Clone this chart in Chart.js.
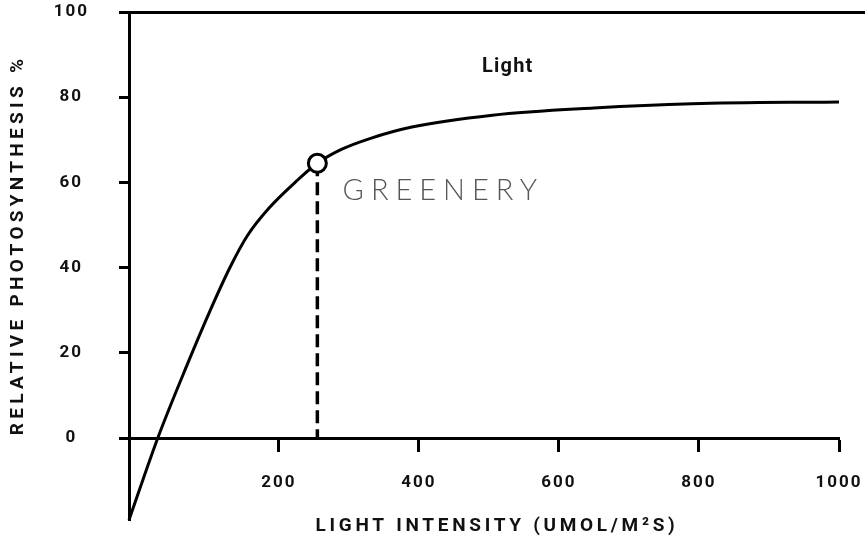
<!DOCTYPE html>
<html>
<head>
<meta charset="utf-8">
<script src="https://cdn.jsdelivr.net/npm/chart.js@4/dist/chart.umd.min.js"></script>
<style>
    html, body { margin: 0; padding: 0; background: #fff; }
    #wrap { width: 865px; height: 545px; }
</style>
</head>
<body>
<div id="wrap"><canvas id="chart" width="865" height="545"></canvas></div>
<script>

// light response curve
const curveX = [-14, 27, 70, 102, 130, 155, 186, 225, 255, 290, 330, 390, 505, 650, 790, 1000];
const curveY = [-19.2, 0, 17.6, 30, 40, 47.5, 54, 60.3, 64.5, 67.8, 70.3, 73, 75.8, 77.5, 78.5, 78.9];

// the marked point and its drop line
const markX = 255;
const markY = 64.5;

const xTicks = [200, 400, 600, 800, 1000];
const yTicks = [0, 20, 40, 60, 80, 100];

const xTitle = 'LIGHT INTENSITY (UMOL/M²S)';
const yTitle = 'RELATIVE PHOTOSYNTHESIS %';
const curveLabel = 'Light';
const curveLabelPos = [527, 87];
const brand = 'GREENERY';
const brandPos = [291, 58];

const tickFont = { family: 'Roboto', size: 17, weight: 'bold' };

function spacedText(ctx, text, x, y, spacing) {
    ctx.save();
    ctx.letterSpacing = spacing + 'px';
    ctx.fillText(text, x, y);
    ctx.restore();
}

// extra lines and texts, placed with the chart's own scales
const extrasPlugin = {
    id: 'extras',
    beforeLayout(chart) {
        chart.ctx.letterSpacing = '2px';
    },
    afterDraw(chart) {
        const ctx = chart.ctx;
        const xs = chart.scales.x;
        const ys = chart.scales.y;
        const area = chart.chartArea;

        // top rule at 100 running to the right edge
        ctx.save();
        ctx.strokeStyle = '#000';
        ctx.lineWidth = 3;
        const top = Math.round(ys.getPixelForValue(100)) + 0.5;
        ctx.beginPath();
        ctx.moveTo(area.left, top);
        ctx.lineTo(chart.width, top);
        ctx.stroke();
        ctx.restore();

        ctx.save();
        ctx.fillStyle = '#111';
        ctx.textAlign = 'center';
        ctx.textBaseline = 'middle';

        ctx.font = 'bold 19px Roboto';
        spacedText(ctx, xTitle, 497, 526, 3.7);

        ctx.save();
        ctx.translate(18, 245);
        ctx.rotate(-Math.PI / 2);
        spacedText(ctx, yTitle, 0, 0, 4.3);
        ctx.restore();

        ctx.font = 'bold 20px Roboto';
        spacedText(ctx, curveLabel, xs.getPixelForValue(curveLabelPos[0]), ys.getPixelForValue(curveLabelPos[1]), 1.2);

        ctx.fillStyle = '#555';
        ctx.textAlign = 'left';
        ctx.font = '300 29px Lato';
        spacedText(ctx, brand, xs.getPixelForValue(brandPos[0]), ys.getPixelForValue(brandPos[1]), 7);
        ctx.restore();
    }
};

function makeChart() {
    const ctx = document.getElementById('chart').getContext('2d');
    const curve = curveX.map((x, i) => ({ x: x, y: curveY[i] }));

    return new Chart(ctx, {
        type: 'scatter',
        data: {
            datasets: [
                {
                    data: [{ x: markX, y: markY }],
                    pointRadius: 9,
                    pointBackgroundColor: '#fff',
                    pointBorderColor: '#000',
                    pointBorderWidth: 3,
                    showLine: false,
                    order: 0
                },
                {
                    data: [{ x: markX, y: markY }, { x: markX, y: 0 }],
                    showLine: true,
                    borderColor: '#000',
                    borderWidth: 3.5,
                    borderDash: [13, 6],
                    pointRadius: 0,
                    order: 2
                },
                {
                    data: curve,
                    showLine: true,
                    borderColor: '#000',
                    borderWidth: 3,
                    cubicInterpolationMode: 'monotone',
                    pointRadius: 0,
                    clip: false,
                    order: 1
                }
            ]
        },
        options: {
            responsive: false,
            animation: false,
            events: [],
            layout: { padding: { top: 12, right: 26, left: 0, bottom: 25 } },
            plugins: {
                legend: { display: false },
                tooltip: { enabled: false }
            },
            scales: {
                x: {
                    type: 'linear',
                    min: -14,
                    max: 1000,
                    position: { y: 0 },
                    afterFit(scale) {
                        scale.paddingLeft = 0;
                        scale.paddingRight = 0;
                    },
                    afterBuildTicks(scale) { scale.ticks = xTicks.map(v => ({ value: v })); },
                    grid: {
                        drawOnChartArea: false,
                        tickLength: 12,
                        tickWidth: 3,
                        tickColor: '#000'
                    },
                    border: { display: true, color: '#000', width: 3 },
                    ticks: {
                        color: '#111',
                        font: tickFont,
                        padding: 22,
                        maxRotation: 0,
                        callback: v => String(v)
                    }
                },
                y: {
                    type: 'linear',
                    min: -19.2,
                    max: 100,
                    afterFit(scale) {
                        scale.width = 129;
                        scale.paddingTop = 0;
                        scale.paddingBottom = 0;
                    },
                    afterBuildTicks(scale) { scale.ticks = yTicks.map(v => ({ value: v })); },
                    grid: {
                        drawOnChartArea: false,
                        tickLength: 10,
                        tickWidth: 3,
                        tickColor: '#000'
                    },
                    border: { display: true, color: '#000', width: 3 },
                    ticks: {
                        color: '#111',
                        font: tickFont,
                        padding: 30,
                        crossAlign: 'center'
                    }
                }
            }
        },
        plugins: [extrasPlugin]
    });
}

window.onload = function () {
    makeChart();
};
</script>
</body>
</html>
